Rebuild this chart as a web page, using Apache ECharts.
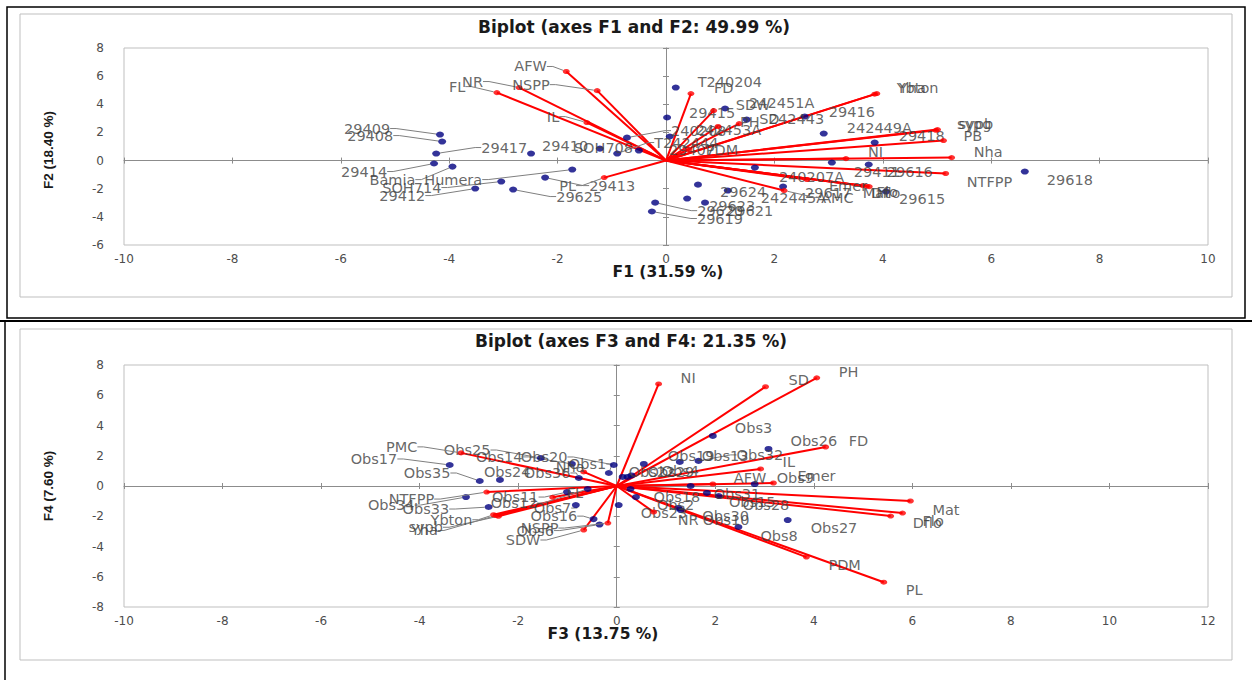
<!DOCTYPE html>
<html><head><meta charset="utf-8">
<script src="https://cdn.jsdelivr.net/npm/echarts@6/dist/echarts.min.js"></script>
<style>html,body{margin:0;padding:0;background:#fff}#c{width:1252px;height:680px}</style>
</head><body><div id="c"></div><script>
// ---------- Data: Biplot F1/F2 ----------
const topVarNames = ['AFW','NSPP','NR','FL','IL','PL','FD','SDW','PH','SD','PDM','Yha','Ybton','sypb','sypg','PB','Nha','NI','NTFPP','Emer','Mat','Flo','Dflo','AMC'];
const topVarF1 = [-1.84,-1.27,-2.71,-3.12,-1.46,-1.14,0.46,0.88,0.96,1.35,0.42,3.89,3.85,5.01,4.98,5.12,5.27,3.32,5.16,2.60,3.63,3.70,3.75,2.18];
const topVarF2 = [6.33,4.97,5.19,4.83,2.70,-1.21,4.76,3.55,2.42,2.63,0.78,4.76,4.72,2.20,2.15,1.42,0.21,0.14,-0.92,-1.35,-1.78,-1.82,-1.85,-2.13];
const topObsNames = ['29409','29408','29417','29414','Bamia','Humera','SOH714','29412','29625','29413','29410','SOH708','T242444','240208','29407','T240204','29415','242453A','242451A','242443','29416','242449A','29418','29411','29616','240207A','29624','242445A','29617','29623','29620','29621','29619','29618','29615'];
const topObsF1 = [-4.17,-4.13,-4.24,-4.28,-3.94,-1.73,-3.04,-3.52,-2.82,-2.23,-2.49,-1.22,-0.90,-0.72,-0.50,0.18,0.02,0.07,1.09,1.49,2.56,2.91,3.85,3.06,3.74,1.64,0.59,1.14,2.16,0.39,-0.20,0.72,-0.26,6.62,4.06];
const topObsF2 = [1.85,1.35,0.50,-0.21,-0.43,-0.64,-1.49,-1.99,-2.06,-1.21,0.50,0.85,0.50,1.63,0.71,5.19,3.06,1.71,3.70,2.91,3.13,1.92,1.28,-0.14,-0.28,-0.50,-1.71,-2.13,-1.85,-2.70,-2.99,-2.99,-3.62,-0.78,-2.20];

// ---------- Data: Biplot F3/F4 ----------
const botVarNames = ['NI','SD','PH','FD','IL','Emer','AFW','Mat','Flo','Dflo','PDM','PL','NR','PMC','NTFPP','Nha','FL','SDW','NSPP','Yha','Ybton','sypb'];
const botVarF3 = [0.85,3.02,4.06,4.24,2.92,3.18,1.95,5.96,5.80,5.56,3.85,5.42,0.75,-3.16,-2.64,-0.67,-1.30,-0.67,-0.18,-2.45,-2.50,-2.40];
const botVarF4 = [6.75,6.56,7.15,2.58,1.13,0.20,0.13,-0.99,-1.79,-1.99,-4.70,-6.36,-1.72,2.19,-0.40,0.93,-0.75,-2.91,-2.45,-1.95,-1.90,-2.00];
const botObsNames = ['Obs17','Obs35','Obs24','Obs25','Obs14','Obs20','Obs1','Obs36','Obs34','Obs33','Obs11','Obs12','Obs7','Obs16','Obs6','Obs23','Obs2','Obs18','Obs19','Obs13','Obs32','Obs3','Obs26','Obs22','Obs29','Obs4','Obs9','Obs31','Obs15','Obs28','Obs27','Obs8','Obs30','Obs10'];
const botObsF3 = [-3.39,-2.78,-2.37,-1.54,-0.91,-0.06,-0.16,-0.77,-3.06,-2.60,-1.01,-0.59,-0.83,-0.47,-0.35,0.04,0.39,0.28,0.55,1.28,1.66,1.95,3.08,0.12,0.22,0.30,2.80,1.50,1.83,2.07,3.47,2.47,1.25,1.30];
const botObsF4 = [1.39,0.33,0.40,1.85,1.46,1.39,0.86,0.53,-0.73,-1.39,-0.40,-0.20,-1.26,-2.19,-2.55,-1.26,-0.73,-0.20,1.46,1.59,1.66,3.31,2.45,0.60,0.60,0.70,0.13,0.00,-0.46,-0.66,-2.25,-2.71,-1.45,-1.59];

// ---------- Label placement (layout only, px offsets from the marker) ----------
const topVarLabelOffset = [[-52,-5],[-85,-6],[-57,-6],[-48,-6],[-40,-6],[-45,8],[23,-6],[22,-6],[22,-5],[20,-5],[17,0],[22,-6],[22,-6],[21,-6],[21,-6],[20,-5],[22,-6],[22,-7],[21,8],[22,6],[0,7],[10,6],[2,6],[37,7]];
const topObsLabelOffset = [[-96,-6],[-95,-6],[45,-6],[-93,8],[-83,13],[-148,10],[-119,6],[-96,7],[43,7],[44,8],[11,-8],[-26,-1],[37,-11],[44,-7],[30,-1],[22,-6],[22,-5],[26,-7],[24,-6],[22,-1],[24,-5],[23,-6],[24,-7],[22,9],[18,7],[24,9],[22,7],[33,7],[22,6],[22,7],[42,8],[22,8],[45,7],[22,8],[13,7]];
const botVarLabelOffset = [[22,-6],[23,-7],[22,-6],[23,-6],[22,-7],[24,-7],[21,-6],[22,9],[20,8],[22,7],[22,8],[22,8],[24,8],[-75,-6],[-98,7],[-28,-5],[14,-4],[-78,10],[-87,5],[-85,15],[-63,5],[-90,11]];
const botObsLabelOffset = [[-99,-6],[-76,-8],[-16,-8],[-97,-8],[-96,-7],[-93,-8],[-40,-9],[-55,-5],[-98,8],[-86,2],[-75,5],[-97,14],[-42,3],[-63,-3],[-83,6],[22,8],[21,8],[23,8],[24,-8],[22,-6],[38,-6],[22,-8],[22,-8],[6,-5],[20,-5],[30,-4],[22,-6],[23,8],[22,9],[24,9],[23,8],[22,9],[24,8],[22,10]];

const FONT = 'DejaVu Sans';
const TXT = '#404040';

function pts(xs, ys, names, offs) {
  return names.map((n, i) => {
    const o = offs[i];
    const far = o[0] >= 35 || o[0] <= -38 || Math.abs(o[1]) >= 12;
    return { name: n, value: [xs[i], ys[i]], labelLine: { show: far } };
  });
}
function vecs(xs, ys) { return xs.map((x, i) => ({ coords: [[0, 0], [x, ys[i]]] })); }
function layoutFor(offs) {
  return function (p) {
    const o = offs[p.dataIndex] || [20, 0];
    const cx = p.rect.x + p.rect.width / 2, cy = p.rect.y + p.rect.height / 2;
    return { x: cx + o[0], y: cy + o[1], align: 'left', verticalAlign: 'middle' };
  };
}
function scatter(gi, names, xs, ys, offs, color, size, z) {
  return {
    type: 'scatter', xAxisIndex: gi * 3, yAxisIndex: gi * 3, z: z,
    symbol: 'circle', symbolSize: size, itemStyle: { color: color },
    data: pts(xs, ys, names, offs),
    label: { show: true, formatter: '{b}', color: TXT, fontFamily: FONT, fontSize: 14.5, position: 'right' },
    labelLayout: layoutFor(offs),
    labelLine: { show: false, length2: 6, lineStyle: { color: '#7f7f7f', width: 1 } },
    emphasis: { disabled: true }, animation: false
  };
}
function vecSeries(gi, xs, ys) {
  return {
    type: 'lines', coordinateSystem: 'cartesian2d', xAxisIndex: gi * 3, yAxisIndex: gi * 3, z: 3,
    lineStyle: { color: '#ff0000', width: 2, opacity: 1 }, data: vecs(xs, ys), silent: true, animation: false
  };
}
function axesFor(dim, gi, min, max) {
  const base = gi * 3;
  const other = base;
  const common = { gridIndex: gi, type: 'value', min: min, max: max, interval: 2, splitLine: { show: false } };
  return [
    Object.assign({}, common, {
      position: dim === 'x' ? 'bottom' : 'left',
      axisLine: { show: false, onZero: false }, axisTick: { show: false },
      axisLabel: { color: '#4d4d4d', fontFamily: FONT, fontSize: 12, margin: dim === 'x' ? 8 : 20 }
    }),
    Object.assign({}, common, {
      position: dim === 'x' ? 'bottom' : 'left',
      axisLine: { show: true, onZero: true, onZeroAxisIndex: other, lineStyle: { color: '#8c8c8c', width: 1 } },
      axisTick: { show: true, length: 3, lineStyle: { color: '#8c8c8c' } }, axisLabel: { show: false }
    }),
    Object.assign({}, common, {
      position: dim === 'x' ? 'bottom' : 'left',
      axisLine: { show: false, onZero: true, onZeroAxisIndex: other },
      axisTick: { show: true, inside: true, length: 3, lineStyle: { color: '#8c8c8c' } }, axisLabel: { show: false }
    })
  ];
}

const chart = echarts.init(document.getElementById('c'), null, { renderer: 'svg', width: 1252, height: 680 });
const option = {
  animation: false,
  backgroundColor: '#ffffff',
  grid: [
    { left: 124, top: 48, width: 1084, height: 197, show: true, borderColor: '#bfbfbf', borderWidth: 1, backgroundColor: 'transparent' },
    { left: 124, top: 365, width: 1084, height: 242, show: true, borderColor: '#bfbfbf', borderWidth: 1, backgroundColor: 'transparent' }
  ],
  xAxis: axesFor('x', 0, -10, 10).concat(axesFor('x', 1, -10, 12)),
  yAxis: axesFor('y', 0, -6, 8).concat(axesFor('y', 1, -8, 8)),
  series: [
    vecSeries(0, topVarF1, topVarF2),
    scatter(0, topObsNames, topObsF1, topObsF2, topObsLabelOffset, '#00007f', [8, 6], 4),
    scatter(0, topVarNames, topVarF1, topVarF2, topVarLabelOffset, '#ff0000', [7, 5], 5),
    vecSeries(1, botVarF3, botVarF4),
    scatter(1, botObsNames, botObsF3, botObsF4, botObsLabelOffset, '#00007f', [8, 6], 4),
    scatter(1, botVarNames, botVarF3, botVarF4, botVarLabelOffset, '#ff0000', [7, 5], 5)
  ],
  graphic: [
    { type: 'rect', shape: { x: 7, y: 7, width: 1238, height: 311 }, style: { fill: 'none', stroke: '#000', lineWidth: 1.5 }, silent: true, z: -10 },
    { type: 'rect', shape: { x: 20, y: 14, width: 1212, height: 283 }, style: { fill: 'none', stroke: '#bfbfbf', lineWidth: 1 }, silent: true, z: -10 },
    { type: 'line', shape: { x1: 0, y1: 321, x2: 1252, y2: 321 }, style: { stroke: '#000', lineWidth: 2 }, silent: true },
    { type: 'line', shape: { x1: 5, y1: 321, x2: 5, y2: 680 }, style: { stroke: '#000', lineWidth: 1.5 }, silent: true },
    { type: 'rect', shape: { x: 20, y: 329, width: 1212, height: 331 }, style: { fill: 'none', stroke: '#bfbfbf', lineWidth: 1 }, silent: true, z: -10 },
    { type: 'text', x: 634, y: 27, style: { text: 'Biplot (axes F1 and F2: 49.99 %)', font: 'bold 17px "DejaVu Sans"', fill: '#1a1a1a', textAlign: 'center', textVerticalAlign: 'middle' } },
    { type: 'text', x: 668, y: 272, style: { text: 'F1 (31.59 %)', font: 'bold 15.5px "DejaVu Sans"', fill: '#1a1a1a', textAlign: 'center', textVerticalAlign: 'middle' } },
    { type: 'text', x: 48, y: 150, rotation: Math.PI / 2, style: { text: 'F2 (18.40 %)', font: 'bold 13.5px "Liberation Sans"', fill: '#1a1a1a', textAlign: 'center', textVerticalAlign: 'middle' } },
    { type: 'text', x: 631, y: 341, style: { text: 'Biplot (axes F3 and F4: 21.35 %)', font: 'bold 17px "DejaVu Sans"', fill: '#1a1a1a', textAlign: 'center', textVerticalAlign: 'middle' } },
    { type: 'text', x: 603, y: 634, style: { text: 'F3 (13.75 %)', font: 'bold 15.5px "DejaVu Sans"', fill: '#1a1a1a', textAlign: 'center', textVerticalAlign: 'middle' } },
    { type: 'text', x: 48, y: 486, rotation: Math.PI / 2, style: { text: 'F4 (7.60 %)', font: 'bold 13.5px "Liberation Sans"', fill: '#1a1a1a', textAlign: 'center', textVerticalAlign: 'middle' } }
  ]
};
chart.setOption(option);
</script></body></html>
